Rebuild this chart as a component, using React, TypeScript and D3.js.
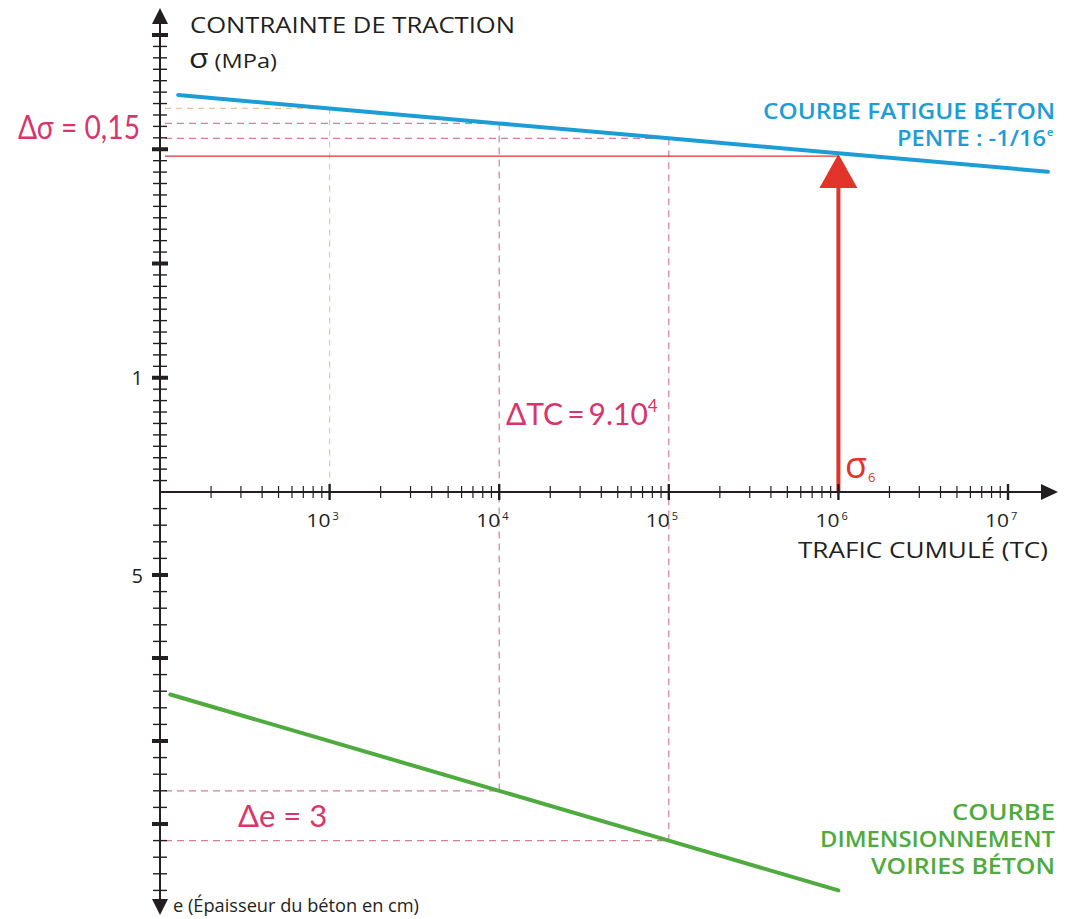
import React from 'react';
import * as d3 from 'd3';

// decades on the log traffic axis
const decadeTC = [1e3, 1e4, 1e5, 1e6, 1e7];
const decadeExp = ['3', '4', '5', '6', '7'];

// fatigue curve (sigma in MPa vs cumulated traffic)
const fatigueTC = [128, 1e3, 1e4, 1e5, 1e6, 1.72e7];
const fatigueSigma = [3.475, 3.357, 3.226, 3.096, 2.965, 2.803];

// dimensioning curve (thickness e in cm vs cumulated traffic)
const dimTC = [115, 1e4, 1e5, 1e6];
const dimE = [12.2, 18, 21, 24];

const sigma6 = 2.94;
const sigmaTC = 1e6;

const sigmaTicks = d3.range(1, 41).map(i => i / 10);
const eTicks = d3.range(1, 25);

const dark = '#231f20';
const blue = '#1d9dd5';
const green = '#4fab3e';
const pink = '#d8356d';
const red = '#e1352b';
const dashPink = '#d97a9e';
const dashOrange = '#f3c197';
const font = '"Open Sans", "Noto Sans", sans-serif';
const mathFont = 'Lato, "Open Sans", sans-serif';

const App = () => {
  const width = 1067;
  const height = 919;

  const x = d3.scaleLog().domain([1e2, 1e7]).range([160, 1008]);
  const ySig = d3.scaleLinear().domain([0, 4]).range([492, 35]);
  const yE = d3.scaleLinear().domain([0, 24]).range([492, 890.4]);
  const x0 = x(1e2);
  const y0 = ySig(0);

  const fatigueLine = d3.line<number>()
    .x((_, i) => x(fatigueTC[i]))
    .y(d => ySig(d))(fatigueSigma);
  const dimLine = d3.line<number>()
    .x((_, i) => x(dimTC[i]))
    .y(d => yE(d))(dimE);

  const minorTC: number[] = [];
  for (let k = 2; k <= 6; k++) {
    for (let m = 2; m <= 9; m++) minorTC.push(m * 10 ** k);
  }

  const sig = (tc: number) => fatigueSigma[fatigueTC.indexOf(tc)];
  const eAt = (tc: number) => dimE[dimTC.indexOf(tc)];

  const arrowX = 1058;
  const topArrow = 8;
  const bottomArrow = 915;
  const wide = 'spacingAndGlyphs';

  return (
    <svg width={width} height={height} style={{ position: 'absolute', left: 0, top: 0, background: '#fff' }}>
      {/* reference dashed lines */}
      <g fill="none" strokeWidth={1.2}>
        <line x1={x0 + 5} x2={x(1e3)} y1={ySig(sig(1e3))} y2={ySig(sig(1e3))} stroke={dashOrange} strokeDasharray="6 5" />
        <line x1={x(1e3)} x2={x(1e3)} y1={ySig(sig(1e3))} y2={y0} stroke={dashOrange} strokeDasharray="6 5" />
        <line x1={x0 + 5} x2={x(1e4)} y1={ySig(sig(1e4))} y2={ySig(sig(1e4))} stroke={dashPink} strokeDasharray="7 5" />
        <line x1={x0 + 5} x2={x(1e5)} y1={ySig(sig(1e5))} y2={ySig(sig(1e5))} stroke={dashPink} strokeDasharray="7 5" />
        <line x1={x(1e4)} x2={x(1e4)} y1={ySig(sig(1e4))} y2={yE(eAt(1e4))} stroke={dashPink} strokeDasharray="7 5" />
        <line x1={x(1e5)} x2={x(1e5)} y1={ySig(sig(1e5))} y2={yE(eAt(1e5))} stroke={dashPink} strokeDasharray="7 5" />
        <line x1={x0 + 5} x2={x(1e4)} y1={yE(eAt(1e4))} y2={yE(eAt(1e4))} stroke={dashPink} strokeDasharray="7 5" />
        <line x1={x0 + 5} x2={x(1e5)} y1={yE(eAt(1e5))} y2={yE(eAt(1e5))} stroke={dashPink} strokeDasharray="7 5" />
      </g>

      {/* sigma6 line and arrow */}
      <line x1={x0 + 5} x2={x(sigmaTC)} y1={ySig(sigma6)} y2={ySig(sigma6)} stroke={red} strokeWidth={1.2} />
      <line x1={x(sigmaTC)} x2={x(sigmaTC)} y1={y0} y2={ySig(sigma6) + 30} stroke={red} strokeWidth={4} />
      <path
        d={`M${x(sigmaTC)},${ySig(sigma6) - 2} L${x(sigmaTC) + 19},${ySig(sigma6) + 32} L${x(sigmaTC) - 19},${ySig(sigma6) + 32} Z`}
        fill={red}
      />

      {/* curves */}
      <path d={fatigueLine ?? ''} fill="none" stroke={blue} strokeWidth={4} strokeLinecap="round" />
      <path d={dimLine ?? ''} fill="none" stroke={green} strokeWidth={4} strokeLinecap="round" />

      {/* vertical axis */}
      <line x1={x0} x2={x0} y1={topArrow + 12} y2={bottomArrow - 10} stroke={dark} strokeWidth={2} />
      <path d={`M${x0},${topArrow} L${x0 + 8},${topArrow + 16} L${x0 - 8},${topArrow + 16} Z`} fill={dark} />
      <path d={`M${x0},${bottomArrow} L${x0 + 8},${bottomArrow - 16} L${x0 - 8},${bottomArrow - 16} Z`} fill={dark} />
      {sigmaTicks.map(t => {
        const major = Math.abs(t - Math.round(t)) < 1e-6;
        return (
          <line key={`s${t}`} x1={x0 - (major ? 8 : 7)} x2={x0 + (major ? 8 : 7)} y1={ySig(t)} y2={ySig(t)}
            stroke={dark} strokeWidth={major ? 4 : 1.4} />
        );
      })}
      {eTicks.map(t => {
        const major = t % 5 === 0;
        return (
          <line key={`e${t}`} x1={x0 - (major ? 8 : 7)} x2={x0 + (major ? 8 : 7)} y1={yE(t)} y2={yE(t)}
            stroke={dark} strokeWidth={major ? 4 : 1.4} />
        );
      })}

      {/* horizontal axis */}
      <line x1={x0} x2={arrowX - 12} y1={y0} y2={y0} stroke={dark} strokeWidth={2} />
      <path d={`M${arrowX},${y0} L${arrowX - 17},${y0 - 8} L${arrowX - 17},${y0 + 8} Z`} fill={dark} />
      {minorTC.map(t => (
        <line key={`m${t}`} x1={x(t)} x2={x(t)} y1={y0 - 6} y2={y0 + 6} stroke={dark} strokeWidth={1.2} />
      ))}
      {decadeTC.map((t, i) => (
        <g key={`d${t}`}>
          <line x1={x(t)} x2={x(t)} y1={y0 - 8} y2={y0 + 8} stroke={dark} strokeWidth={2.4} />
          <text x={x(t) - 23} y={527} fontFamily={font} fontSize={19} fontWeight={500} fill={dark}
            textLength={24} lengthAdjust={wide}>10</text>
          <text x={x(t) + 3} y={520} fontFamily={font} fontSize={11} fontWeight={500} fill={dark}>{decadeExp[i]}</text>
        </g>
      ))}

      {/* axis labels */}
      <g fontFamily={font} fontWeight={500} fill={dark}>
        <text x={190} y={33} fontSize={21} textLength={325} lengthAdjust={wide}>CONTRAINTE DE TRACTION</text>
        <text x={189} y={68} fontSize={20} textLength={88} lengthAdjust={wide}>
          <tspan fontSize={27}>σ</tspan> (MPa)
        </text>
        <text x={143} y={385} textAnchor="end" fontSize={20}>1</text>
        <text x={143} y={583} textAnchor="end" fontSize={20}>5</text>
        <text x={798} y={558} fontSize={22} textLength={250} lengthAdjust={wide}>TRAFIC CUMULÉ (TC)</text>
        <text x={173} y={912} fontSize={18} textLength={246} lengthAdjust={wide}>e (Épaisseur du béton en cm)</text>
      </g>

      {/* curve labels */}
      <g fontFamily={font} fontSize={21} fontWeight={600} fill={blue}>
        <text x={763} y={119} textLength={292} lengthAdjust={wide}>COURBE FATIGUE BÉTON</text>
        <text x={897} y={146} textLength={149} lengthAdjust={wide}>PENTE : -1/16</text>
        <text x={1047} y={136} fontSize={11}>e</text>
      </g>
      <g fontFamily={font} fontSize={21} fontWeight={600} fill={green}>
        <text x={952} y={820} textLength={103} lengthAdjust={wide}>COURBE</text>
        <text x={820} y={847} textLength={235} lengthAdjust={wide}>DIMENSIONNEMENT</text>
        <text x={871} y={874} textLength={184} lengthAdjust={wide}>VOIRIES BÉTON</text>
      </g>

      {/* annotations */}
      <text x={18} y={139} fontFamily={mathFont} fontSize={32} fill={pink} textLength={122} lengthAdjust={wide}>Δσ = 0,15</text>
      <text x={506} y={425} fontFamily={mathFont} fontSize={30} fill={pink}>
        ΔTC<tspan dx={4}>=</tspan><tspan dx={4}>9.10</tspan><tspan fontSize={17} dy={-13}>4</tspan>
      </text>
      <text x={238} y={827} fontFamily={mathFont} fontSize={31} fill={pink}>Δe = 3</text>
      <text x={845} y={478} fontFamily={font} fontSize={36} fill={red}>σ<tspan fontSize={13} dy={4} dx={1}>6</tspan></text>
    </svg>
  );
};

export default App;
